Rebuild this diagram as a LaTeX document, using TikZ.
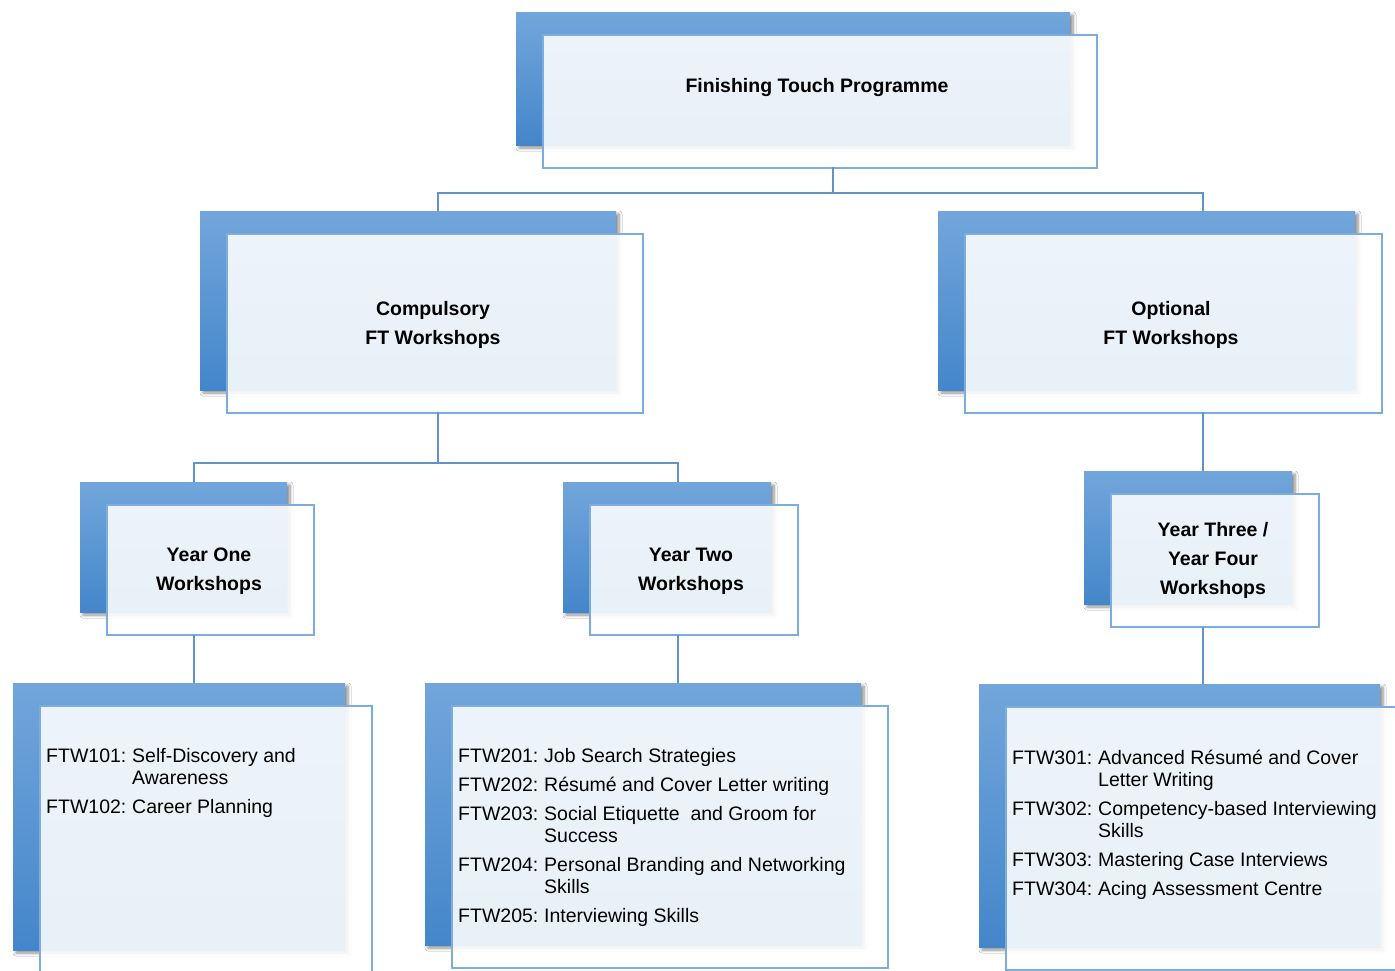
\documentclass[tikz,border=0pt]{standalone}
\usepackage{fontspec}
\setmainfont{Liberation Sans}
\usetikzlibrary{shadows.blur}
\definecolor{boxtop}{RGB}{114,166,219}
\definecolor{boxbot}{RGB}{68,134,202}
\definecolor{edgeC}{RGB}{125,172,222}
\definecolor{linkC}{RGB}{98,146,198}
\tikzset{
  backbox/.style={top color=boxtop, bottom color=boxbot, draw=none,
    blur shadow={shadow xshift=3pt, shadow yshift=-3pt, shadow blur steps=6,
    shadow opacity=45, shadow blur radius=3pt}},
  frontbox/.style={draw=edgeC, line width=1.5pt, fill=white, fill opacity=0.88,
    draw opacity=1, inner sep=0pt, outer sep=0pt},
  linkline/.style={draw=linkC, line width=2pt},
  titletext/.style={font=\fontsize{19.5}{29}\selectfont\bfseries, anchor=base, inner sep=0pt},
  listtext/.style={font=\fontsize{19.5}{22}\selectfont, anchor=base west, inner sep=0pt},
}
\newcommand\ftbox[5]{%
  \path[backbox] (#2,#3) rectangle (#4,#5);
  \node[frontbox, anchor=north west, minimum width={#4-#2}, minimum height={#5-#3}]
    (#1) at ({#2+27},{#3+23}) {};
}
\newcommand\code[1]{\makebox[86pt][l]{#1}}
\begin{document}
\begin{tikzpicture}[x=1pt,y=-1pt]
\useasboundingbox (0,0) rectangle (1395,970);
\clip (0,0) rectangle (1395,970);
\fill[white] (0,0) rectangle (1395,970);

% boxes
\ftbox{top}{516}{12}{1070}{145}
\ftbox{comp}{200}{211}{616}{390}
\ftbox{opt}{938}{211}{1355}{390}
\ftbox{yone}{80}{482}{287}{612}
\ftbox{ytwo}{563}{482}{771}{612}
\ftbox{ythree}{1084}{471}{1292}{604}
\ftbox{leafone}{13}{683}{345}{950}
\ftbox{leaftwo}{425}{683}{861}{945}
\ftbox{leafthree}{979}{684}{1380}{947}

% titles
\node[titletext] (ttop) at (817,92) {Finishing Touch Programme};
\node[titletext] (tcomp) at (433,315) {\begin{tabular}[t]{@{}c@{}}Compulsory\\FT Workshops\end{tabular}};
\node[titletext] (topt) at (1171,315) {\begin{tabular}[t]{@{}c@{}}Optional\\FT Workshops\end{tabular}};
\node[titletext] (tyone) at (209,561) {\begin{tabular}[t]{@{}c@{}}Year One\\Workshops\end{tabular}};
\node[titletext] (tytwo) at (691,561) {\begin{tabular}[t]{@{}c@{}}Year Two\\Workshops\end{tabular}};
\node[titletext] (tythree) at (1213,536) {\begin{tabular}[t]{@{}c@{}}Year Three /\\Year Four\\Workshops\end{tabular}};

% lists
\node[listtext] (lone) at (46,762) {\begin{tabular}[t]{@{}l@{}l@{}}
\code{FTW101:} & Self-Discovery and\\
 & Awareness\\[7pt]
\code{FTW102:} & Career Planning
\end{tabular}};
\node[listtext] (ltwo) at (458,762) {\begin{tabular}[t]{@{}l@{}l@{}}
\code{FTW201:} & Job Search Strategies\\[7pt]
\code{FTW202:} & Résumé and Cover Letter writing\\[7pt]
\code{FTW203:} & Social Etiquette \ and Groom for\\
 & Success\\[7pt]
\code{FTW204:} & Personal Branding and Networking\\
 & Skills\\[7pt]
\code{FTW205:} & Interviewing Skills
\end{tabular}};
\node[listtext] (lthree) at (1012,764) {\begin{tabular}[t]{@{}l@{}l@{}}
\code{FTW301:} & Advanced Résumé and Cover\\
 & Letter Writing\\[7pt]
\code{FTW302:} & Competency-based Interviewing\\
 & Skills\\[7pt]
\code{FTW303:} & Mastering Case Interviews\\[7pt]
\code{FTW304:} & Acing Assessment Centre
\end{tabular}};

% connector anchor points
\coordinate (top-s) at (833,167);
\coordinate (comp-n) at (438,211);
\coordinate (opt-n) at (1203,211);
\coordinate (comp-s) at (438,412);
\coordinate (opt-s) at (1203,412);
\coordinate (yone-n) at (194,482);
\coordinate (ytwo-n) at (678,482);
\coordinate (ythree-n) at (1203,471);
\coordinate (yone-s) at (194,635);
\coordinate (ytwo-s) at (678,635);
\coordinate (ythree-s) at (1203,627);
\coordinate (leafone-n) at (194,683);
\coordinate (leaftwo-n) at (678,683);
\coordinate (leafthree-n) at (1203,684);

% connectors
\draw[linkline] (top-s) -- ++(0,26) coordinate (busA);
\draw[linkline] (comp-n) |- (busA) -| (opt-n);
\draw[linkline] (comp-s) -- ++(0,51) coordinate (busB);
\draw[linkline] (yone-n) |- (busB) -| (ytwo-n);
\draw[linkline] (opt-s) -- (ythree-n);
\draw[linkline] (yone-s) -- (leafone-n);
\draw[linkline] (ytwo-s) -- (leaftwo-n);
\draw[linkline] (ythree-s) -- (leafthree-n);
\end{tikzpicture}
\end{document}
